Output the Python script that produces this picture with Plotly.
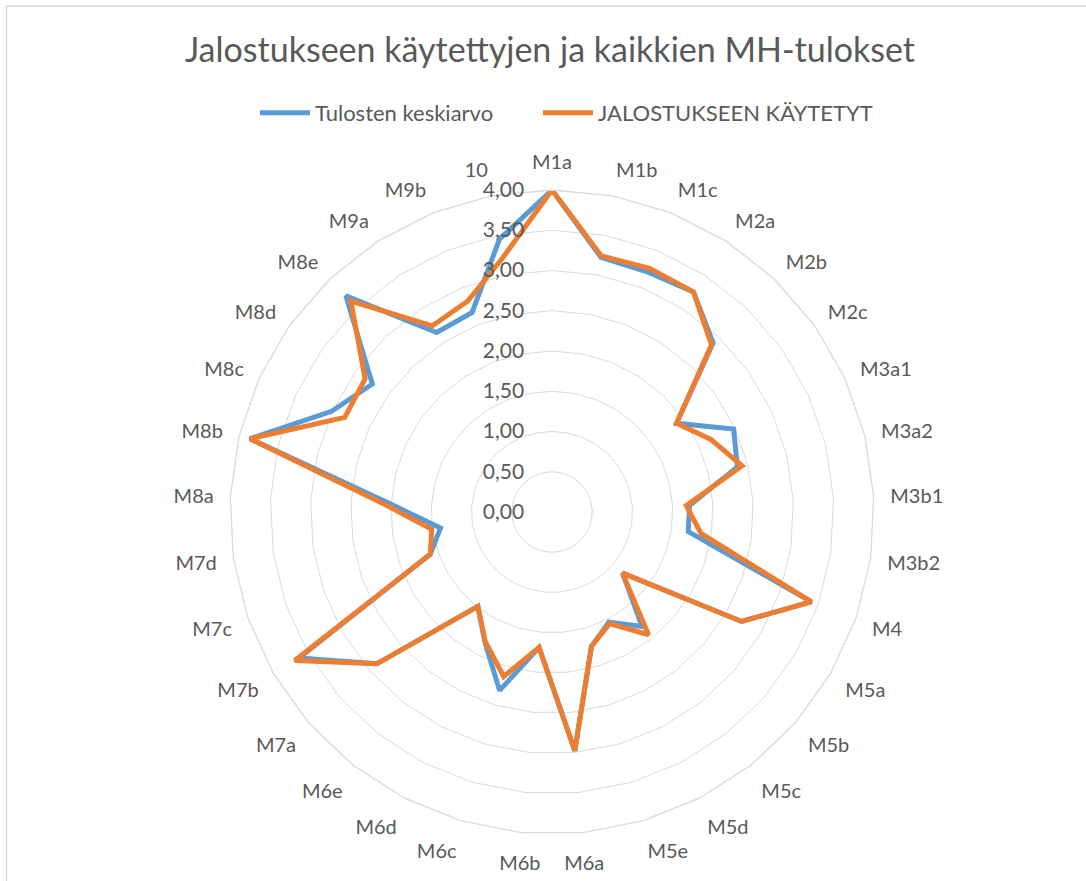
import plotly.graph_objects as go

categories = ["M1a", "M1b", "M1c", "M2a", "M2b", "M2c", "M3a1", "M3a2", "M3b1", "M3b2",
              "M4", "M5a", "M5b", "M5c", "M5d", "M5e", "M6a", "M6b", "M6c", "M6d", "M6e",
              "M7a", "M7b", "M7c", "M7d", "M8a", "M8b", "M8c", "M8d", "M8e", "M9a", "M9b", "10"]

keskiarvo = [4.00, 3.22, 3.21, 3.25, 2.90, 1.90, 2.48, 2.37, 1.71, 1.71,
             3.41, 2.72, 1.16, 1.81, 1.54, 1.74, 2.98, 1.69, 2.31, 1.82, 1.49,
             2.88, 3.63, 1.60, 1.40, 2.00, 3.86, 3.01, 2.74, 3.71, 2.65, 2.67, 3.45]

jalostus = [4.00, 3.24, 3.26, 3.25, 2.87, 1.90, 2.17, 2.43, 1.67, 1.87,
            3.41, 2.72, 1.16, 1.94, 1.56, 1.74, 2.98, 1.69, 2.13, 1.81, 1.49,
            2.88, 3.69, 1.60, 1.51, 2.09, 3.86, 2.83, 2.85, 3.62, 2.75, 2.82, 3.22]

radial_ticks = [0, 0.5, 1.0, 1.5, 2.0, 2.5, 3.0, 3.5, 4.0]

series_names = ["Tulosten keskiarvo", "JALOSTUKSEEN KÄYTETYT"]
series_colors = ["#5B9BD5", "#ED7D31"]
series_legends = ["legend", "legend2"]

FONT = "Lato"
TXT = "#595959"
GRID = "#D9D9D9"

fig = go.Figure()
for name, vals, col, lg in zip(series_names, [keskiarvo, jalostus], series_colors, series_legends):
    fig.add_trace(go.Scatterpolar(
        r=vals + vals[:1],
        theta=categories + categories[:1],
        mode="lines",
        name=name,
        legend=lg,
        showlegend=True,
        line=dict(color=col, width=5),
    ))

W, H = 1086, 881
cx, cy, R = 552, 512, 322
leg_common = dict(orientation="h", xanchor="left", y=1 - 113 / H, yanchor="middle",
                  itemwidth=50, font=dict(family=FONT, size=22, color=TXT))
fig.update_layout(
    width=W, height=H,
    margin=dict(l=0, r=0, t=0, b=0),
    paper_bgcolor="white",
    showlegend=True,
    separators=",.",
    font=dict(family=FONT, color=TXT, size=20),
    title=dict(text="Jalostukseen käytettyjen ja kaikkien MH-tulokset",
               x=550 / W, xanchor="center", y=1 - 50 / H, yanchor="middle",
               font=dict(family=FONT, size=34, color=TXT)),
    legend=dict(x=255 / W, **leg_common),
    legend2=dict(x=538 / W, **leg_common),
    polar=dict(
        domain=dict(x=[(cx - R) / W, (cx + R) / W],
                    y=[(H - cy - R) / H, (H - cy + R) / H]),
        bgcolor="white",
        gridshape="linear",
        radialaxis=dict(range=[0, 4], tickvals=radial_ticks, tickformat=".2f",
                        angle=90, tickangle=90, side="counterclockwise",
                        showline=False, ticks="outside", ticklen=20,
                        tickcolor="rgba(0,0,0,0)",
                        gridcolor=GRID, gridwidth=1.3,
                        tickfont=dict(family=FONT, size=21, color=TXT)),
        angularaxis=dict(type="category", categoryarray=categories,
                         rotation=90, direction="clockwise",
                         showgrid=False, showline=True, linecolor=GRID, linewidth=1.3,
                         ticks="outside", ticklen=12, tickcolor="rgba(0,0,0,0)",
                         tickfont=dict(family=FONT, size=20, color=TXT)),
    ),
    shapes=[dict(type="rect", xref="paper", yref="paper",
                 x0=6.5 / W, x1=1.05, y0=-0.05, y1=1 - 6 / H,
                 line=dict(color=GRID, width=1.5))],
)

fig.write_html("out.html", config={"displayModeBar": False},
               post_script="document.body.style.margin='0';")
